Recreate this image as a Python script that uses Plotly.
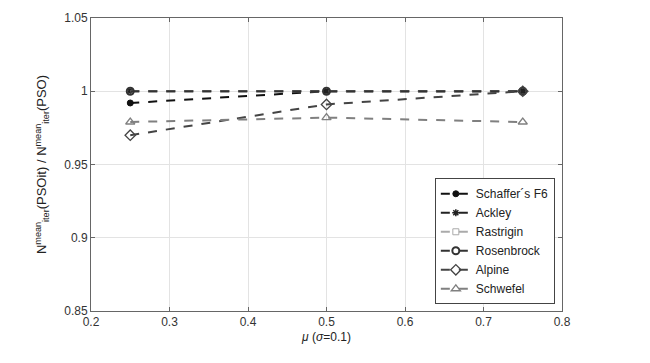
import plotly.graph_objects as go

mu = [0.25, 0.5, 0.75]
schaffer = [0.992, 1.0, 1.0]
ackley = [1.0, 1.0, 1.0]
rastrigin = [1.0, 1.0, 1.0]
rosenbrock = [1.0, 1.0, 1.0]
alpine = [0.970, 0.991, 1.0]
schwefel = [0.979, 0.982, 0.979]

series = [
    ("Schaffer´s F6", schaffer, "#111111", "circle", 6, 1),
    ("Ackley", ackley, "#222222", "asterisk-open", 6, 1.5),
    ("Rastrigin", rastrigin, "#aaaaaa", "square-open", 6, 1),
    ("Rosenbrock", rosenbrock, "#333333", "circle-open", 7, 2),
    ("Alpine", alpine, "#444444", "diamond-open", 8, 1.3),
    ("Schwefel", schwefel, "#808080", "triangle-up-open", 8, 1.3),
]

fig = go.Figure()
for name, ys, col, sym, sz, lw in series:
    fig.add_trace(go.Scatter(
        x=mu, y=ys, name=name, mode="lines+markers",
        line=dict(color=col, dash="dash", width=2),
        marker=dict(symbol=sym, size=sz, color=col, line=dict(color=col, width=lw)),
    ))

axis_common = dict(
    showgrid=True, gridcolor="#e3e3e3", gridwidth=1,
    showline=True, linecolor="#666666", linewidth=1, mirror="ticks",
    ticks="inside", ticklen=4, tickcolor="#666666",
    tickfont=dict(family="Liberation Sans, Arial", size=12, color="#333333"),
    zeroline=False,
)

fig.update_layout(
    width=650, height=363,
    margin=dict(l=91, r=88, t=11, b=52),
    paper_bgcolor="white", plot_bgcolor="white",
    font=dict(family="Liberation Sans, Arial", size=12, color="#222222"),
    xaxis=dict(range=[0.2, 0.8], dtick=0.1, tickformat=".1f",
               title=dict(text="<i>μ</i> (<i>σ</i>=0.1)", standoff=4,
                          font=dict(size=12)),
               **axis_common),
    yaxis=dict(range=[0.85, 1.05], tickvals=[0.85, 0.9, 0.95, 1.0, 1.05],
               ticktext=["0.85", "0.9", "0.95", "1", "1.05"],
               title=dict(text="N<sup>mean</sup><sub>iter</sub>(PSOit) / N<sup>mean</sup><sub>iter</sub>(PSO)",
                          standoff=14, font=dict(size=13)),
               **axis_common),
    legend=dict(x=0.73, y=0.453, xanchor="left", yanchor="top",
                bgcolor="white", bordercolor="#444444", borderwidth=1,
                font=dict(size=12, color="#222222"), tracegroupgap=0,
                itemwidth=30),
    showlegend=True,
)

fig.write_html("out.html")
